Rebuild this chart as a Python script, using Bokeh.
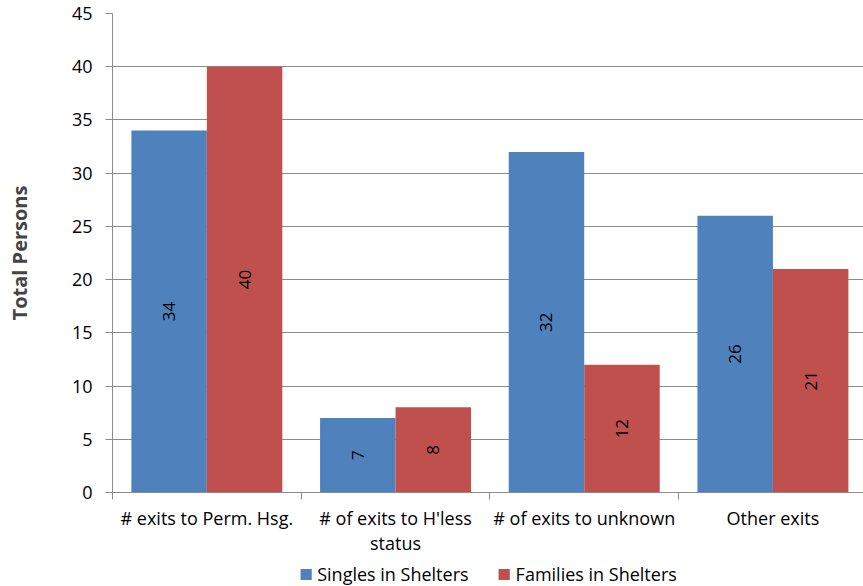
import math
from bokeh.plotting import figure
from bokeh.layouts import column
from bokeh.models import Range1d, FixedTicker, ColumnDataSource, Legend, LegendItem, LinearAxis, Grid
from bokeh.core.properties import value
from bokeh.embed import file_html
from bokeh.resources import INLINE

categories = ["# exits to Perm. Hsg.", "# of exits to H'less\nstatus", "# of exits to unknown", "Other exits"]
series_names = ["Singles in Shelters", "Families in Shelters"]
singles = [34, 7, 32, 26]
families = [40, 8, 12, 21]
y_ticks = [0, 5, 10, 15, 20, 25, 30, 35, 40, 45]

FONT = "Open Sans"
BLUE = "#4F81BD"
RED = "#C0504D"
GRID = "#8c8c8c"
FS = "18px"

p = figure(width=863, height=562, output_backend="svg", toolbar_location=None,
           x_range=Range1d(0, 3.98), y_range=Range1d(0, 45),
           min_border_left=112, min_border_top=13, min_border_bottom=70, min_border_right=0,
           x_axis_location=None, y_axis_location=None)
p.outline_line_color = None
p.background_fill_color = "white"
p.xgrid.grid_line_color = None
p.ygrid.grid_line_color = None

n = len(categories)
xs_single = [i + 0.3 for i in range(n)]
xs_family = [i + 0.7 for i in range(n)]

src_s = ColumnDataSource(dict(x=xs_single, top=singles, mid=[v / 2 for v in singles], lab=[str(v) for v in singles]))
src_f = ColumnDataSource(dict(x=xs_family, top=families, mid=[v / 2 for v in families], lab=[str(v) for v in families]))

# axes
yaxis = LinearAxis(ticker=FixedTicker(ticks=y_ticks))
yaxis.axis_label = "Total Persons"
yaxis.axis_label_text_font = FONT
yaxis.axis_label_text_font_style = "bold"
yaxis.axis_label_text_font_size = "20px"
yaxis.axis_label_standoff = 36
yaxis.major_label_text_font = FONT
yaxis.major_label_text_font_size = FS
yaxis.major_label_text_color = "black"
yaxis.axis_line_color = GRID
yaxis.major_tick_line_color = GRID
yaxis.major_tick_in = 0
yaxis.major_tick_out = 7
yaxis.minor_tick_line_color = None
yaxis.major_label_standoff = 13
p.add_layout(yaxis, "left")

xaxis = LinearAxis(ticker=FixedTicker(ticks=[i + 0.5 for i in range(n)], minor_ticks=list(range(n + 1))))
xaxis.major_label_overrides = {i + 0.5: categories[i] for i in range(n)}
xaxis.major_label_text_font = FONT
xaxis.major_label_text_font_size = FS
xaxis.major_label_text_line_height = 1.05
xaxis.major_label_text_color = "black"
xaxis.major_tick_line_color = None
xaxis.minor_tick_line_color = GRID
xaxis.minor_tick_in = 0
xaxis.minor_tick_out = 7
xaxis.axis_line_color = GRID
xaxis.major_label_standoff = 6
p.add_layout(xaxis, "below")

p.add_layout(Grid(dimension=1, ticker=yaxis.ticker, grid_line_color=GRID, grid_line_width=1))

p.vbar(x="x", top="top", width=0.4, source=src_s, fill_color=BLUE, line_color=None)
p.vbar(x="x", top="top", width=0.4, source=src_f, fill_color=RED, line_color=None)

for src in (src_s, src_f):
    p.text(x="x", y="mid", text="lab", source=src, angle=math.pi / 2,
           text_align="center", text_baseline="middle",
           text_font=value(FONT), text_font_size="17px", text_color="black")

# legend strip below the chart (its bars lie outside its own visible range)
lf = figure(width=863, height=24, output_backend="svg", toolbar_location=None,
            x_range=Range1d(100, 101), y_range=Range1d(100, 101),
            min_border_left=26, min_border_right=0, min_border_top=0, min_border_bottom=0,
            x_axis_location=None, y_axis_location=None)
lf.outline_line_color = None
lf.xgrid.grid_line_color = None
lf.ygrid.grid_line_color = None
l_s = lf.vbar(x="x", top="top", width=0.4, source=src_s, fill_color=BLUE, line_color=None)
l_f = lf.vbar(x="x", top="top", width=0.4, source=src_f, fill_color=RED, line_color=None)
legend = Legend(items=[LegendItem(label=series_names[0], renderers=[l_s]),
                       LegendItem(label=series_names[1], renderers=[l_f])],
                orientation="horizontal", location="center",
                label_text_font=FONT, label_text_font_size=FS, label_text_color="black",
                label_height=14, glyph_width=14, glyph_height=14, spacing=28, label_standoff=5,
                border_line_color=None, background_fill_alpha=0, padding=0, margin=0)
lf.add_layout(legend, "center")

layout = column(p, lf, spacing=0)
open("out.html", "w").write(file_html(layout, INLINE))
